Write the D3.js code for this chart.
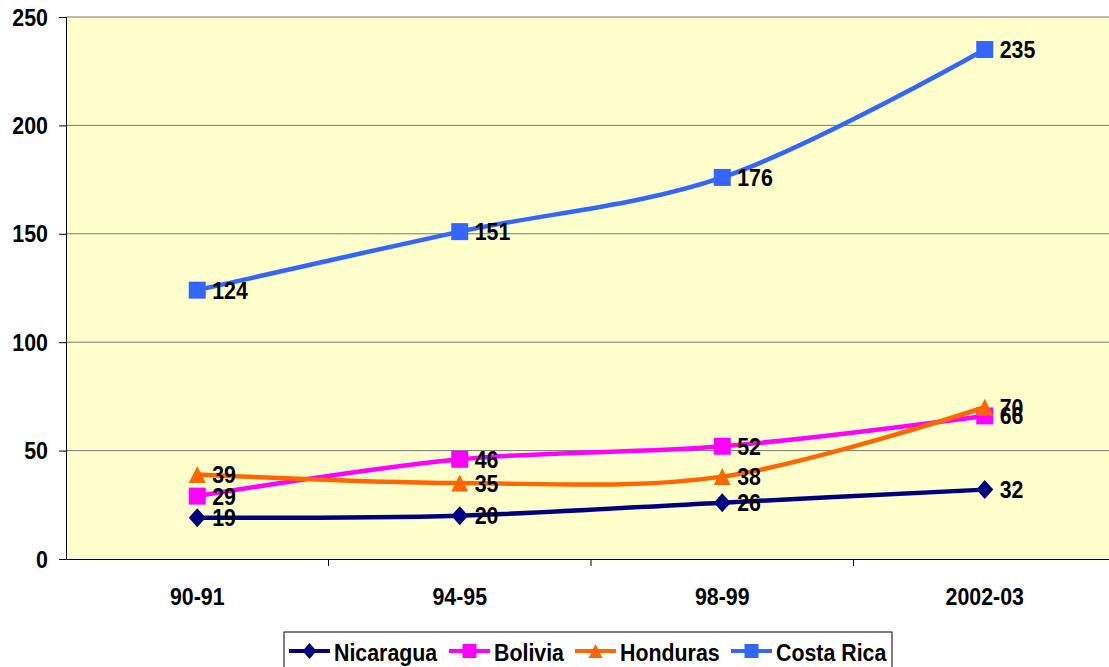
<!DOCTYPE html>
<html>
<head>
<meta charset="utf-8">
<script src="https://cdn.jsdelivr.net/npm/d3@7"></script>
<style>
  body { margin: 0; background: #fff; }
  text { font-family: "Liberation Sans", Arial, sans-serif; font-weight: bold; fill: #000; }
</style>
</head>
<body>
<svg width="1109" height="667"></svg>
<script>
// data
let periods = ['90-91', '94-95', '98-99', '2002-03']
let nicaragua = [19, 20, 26, 32]
let bolivia = [29, 46, 52, 66]
let honduras = [39, 35, 38, 70]
let costaRica = [124, 151, 176, 235]
let yTicks = [0, 50, 100, 150, 200, 250]

// marker shapes, width w and height h
let diamond = (w, h) => ({ draw(c) { c.moveTo(0, -h / 2); c.lineTo(w / 2, 0); c.lineTo(0, h / 2); c.lineTo(-w / 2, 0); c.closePath() } })
let square = (w, h) => ({ draw(c) { c.rect(-w / 2, -h / 2, w, h) } })
let triangle = (w, h) => ({ draw(c) { c.moveTo(0, -h / 2); c.lineTo(w / 2, h / 2); c.lineTo(-w / 2, h / 2); c.closePath() } })

let series = [
  { name: 'Nicaragua', values: nicaragua, color: '#000080', shape: diamond },
  { name: 'Bolivia', values: bolivia, color: '#FF00FF', shape: square },
  { name: 'Honduras', values: honduras, color: '#FF6600', shape: triangle },
  { name: 'Costa Rica', values: costaRica, color: '#3366FF', shape: square }
]

let svg = d3.select('svg')

let plotLeft = 66, plotTop = 17, plotBottom = 559, plotRight = 1116
let squeeze = 0.89 // the original font is a bit condensed

let x = d3.scaleBand().domain(periods).range([plotLeft, plotRight])
let y = d3.scaleLinear().domain([0, 250]).range([plotBottom, plotTop])

function label(parent, tx, ty, str, anchor) {
  return parent.append('text')
    .attr('transform', `translate(${tx},${ty}) scale(${squeeze},1)`)
    .attr('text-anchor', anchor || 'start')
    .attr('font-size', 24)
    .text(str)
}

// plot background
svg.append('rect')
  .attr('x', plotLeft).attr('y', plotTop)
  .attr('width', plotRight - plotLeft).attr('height', plotBottom - plotTop)
  .attr('fill', '#FFFFCC')

// gridlines
svg.selectAll('.grid')
  .data(yTicks.filter(d => d > 0))
  .enter().append('line')
  .attr('x1', plotLeft).attr('x2', plotRight)
  .attr('y1', d => y(d)).attr('y2', d => y(d))
  .attr('stroke', '#777').attr('stroke-width', 1)

// y axis
let yAxis = svg.append('g')
  .attr('transform', `translate(${plotLeft},0)`)
  .call(d3.axisLeft(y).tickValues(yTicks).tickSize(7).tickFormat(''))
yAxis.select('.domain').attr('stroke', '#000')
yAxis.selectAll('.tick line').attr('stroke', '#000')
yTicks.forEach(t => label(svg, 48, y(t) + 8.5, t, 'end'))

// x axis
let xAxis = svg.append('g')
  .attr('transform', `translate(0,${plotBottom})`)
  .call(d3.axisBottom(x).tickSize(0).tickFormat(''))
xAxis.select('.domain').attr('stroke', '#000')
periods.forEach(p => label(svg, x(p) + x.bandwidth() / 2, 605, p, 'middle'))
// tick marks between categories
svg.selectAll('.xtick')
  .data(periods.slice(1))
  .enter().append('line')
  .attr('x1', d => x(d)).attr('x2', d => x(d))
  .attr('y1', plotBottom).attr('y2', plotBottom + 7)
  .attr('stroke', '#000')

let cx = d => x(d) + x.bandwidth() / 2

let line = d3.line()
  .x((d, i) => cx(periods[i]))
  .y(d => y(d))
  .curve(d3.curveCatmullRom.alpha(0.5))

series.forEach(s => {
  let g = svg.append('g')
  g.append('path')
    .attr('d', line(s.values))
    .attr('fill', 'none')
    .attr('stroke', s.color)
    .attr('stroke-width', 4.5)
  let type = s.shape === diamond ? diamond(17, 19) : s.shape === triangle ? triangle(17, 17) : square(17, 17)
  g.selectAll('path.mark')
    .data(s.values)
    .enter().append('path')
    .attr('class', 'mark')
    .attr('transform', (d, i) => `translate(${cx(periods[i])},${y(d)})`)
    .attr('d', d3.symbol().type(type))
    .attr('fill', s.color)
  s.values.forEach((v, i) => label(g, cx(periods[i]) + 15, y(v) + 8.5, v))
})

// legend
let legend = svg.append('g')
legend.append('rect')
  .attr('x', 284).attr('y', 632).attr('width', 608).attr('height', 42)
  .attr('fill', '#fff').attr('stroke', '#000').attr('stroke-width', 1)

let legendX = [289, 449, 575, 731]
series.forEach((s, i) => {
  let lx = legendX[i]
  legend.append('line')
    .attr('x1', lx).attr('x2', lx + 41)
    .attr('y1', 651).attr('y2', 651)
    .attr('stroke', s.color).attr('stroke-width', 4)
  let type = s.shape === diamond ? diamond(14, 16) : s.shape === triangle ? triangle(14, 14) : square(14, 14)
  legend.append('path')
    .attr('transform', `translate(${lx + 20.5},651)`)
    .attr('d', d3.symbol().type(type))
    .attr('fill', s.color)
  label(legend, lx + 45, 661, s.name)
})
</script>
</body>
</html>
